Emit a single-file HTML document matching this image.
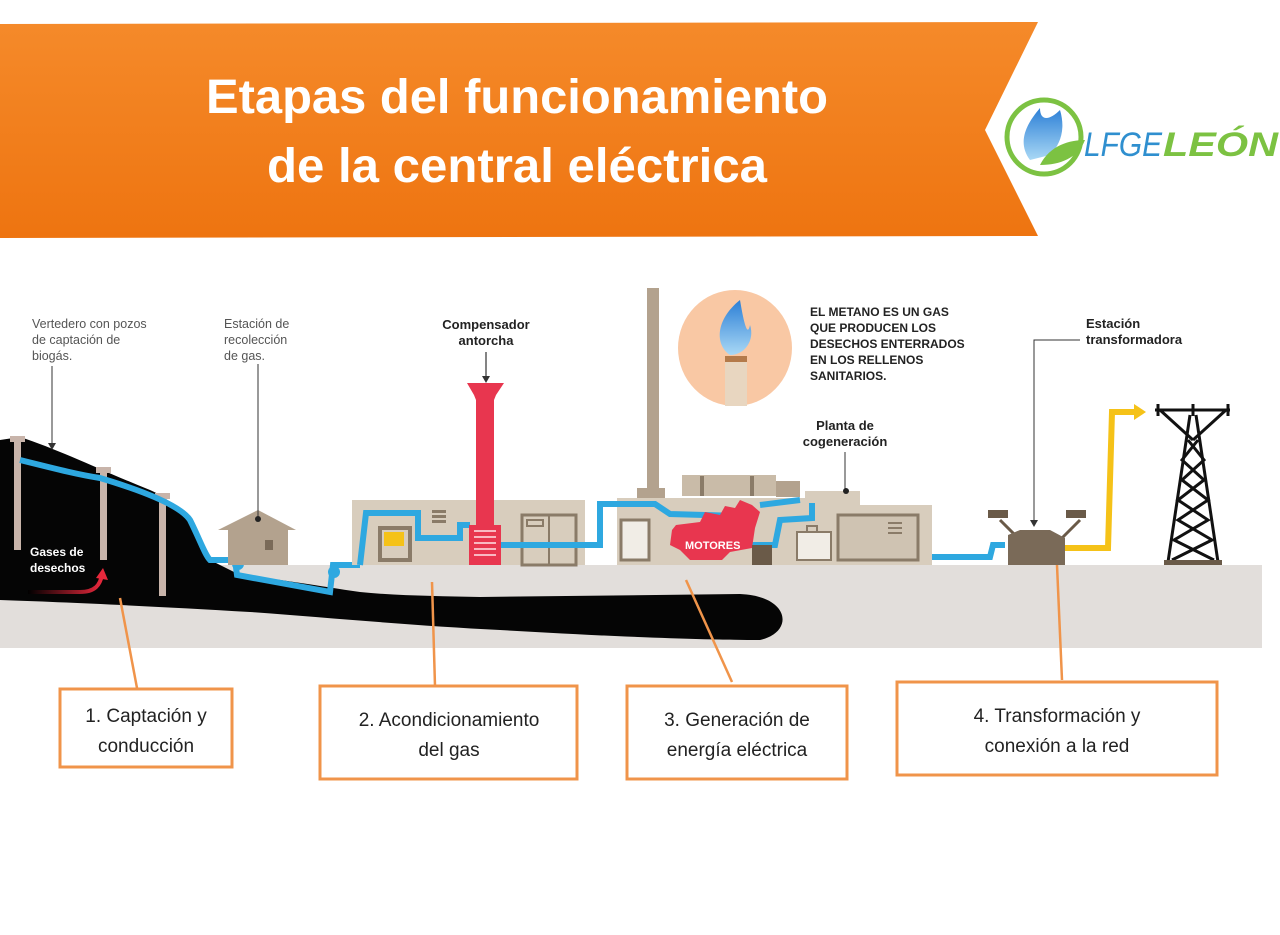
<!DOCTYPE html>
<html><head><meta charset="utf-8"><style>
html,body{margin:0;padding:0;background:#fff;width:1280px;height:935px;overflow:hidden}
svg{display:block}
</style></head><body>
<svg width="1280" height="935" viewBox="0 0 1280 935" xmlns="http://www.w3.org/2000/svg" font-family="Liberation Sans, sans-serif">
<defs>
<linearGradient id="ban" x1="0" y1="0" x2="0" y2="1"><stop offset="0" stop-color="#f58a2a"/><stop offset="1" stop-color="#ee7410"/></linearGradient>
<linearGradient id="flm" x1="0" y1="0" x2="0" y2="1"><stop offset="0" stop-color="#2c7fd6"/><stop offset="1" stop-color="#a9d8f5"/></linearGradient>
<linearGradient id="gas" x1="0" y1="0" x2="1" y2="0"><stop offset="0" stop-color="#000"/><stop offset="1" stop-color="#e8283c"/></linearGradient>
</defs>
<polygon points="0,24 1038,22 985,130 1038,236 0,238" fill="url(#ban)"/>
<text x="517" y="113" text-anchor="middle" font-size="48" font-weight="bold" fill="#fff" textLength="622" lengthAdjust="spacingAndGlyphs">Etapas del funcionamiento</text>
<text x="517" y="182" text-anchor="middle" font-size="48" font-weight="bold" fill="#fff" textLength="500" lengthAdjust="spacingAndGlyphs">de la central eléctrica</text>
<circle cx="1044" cy="137" r="37" fill="none" stroke="#7cc242" stroke-width="5"/>
<path d="M1030,160 C1015,140 1030,120 1040,108 C1040,122 1050,120 1060,110 C1066,130 1060,145 1050,155 Z" fill="url(#flm)"/>
<path d="M1040,165 C1050,145 1070,140 1085,140 C1078,158 1060,165 1040,165 Z" fill="#7cc242"/>
<text x="1084" y="156" font-size="34" font-style="italic" fill="#2f8fcf" textLength="78" lengthAdjust="spacingAndGlyphs">LFGE</text>
<text x="1163" y="156" font-size="34" font-style="italic" font-weight="bold" fill="#7cc242" textLength="115" lengthAdjust="spacingAndGlyphs">LEÓN</text>
<rect x="0" y="565" width="1262" height="83" fill="#e2dedb"/>
<path d="M0,440 L20,437 C60,450 100,470 150,490 C185,505 200,540 210,560 L240,575 C300,582 330,588 360,592 C400,596 440,596 480,597 L740,594 C790,596 795,632 760,640 C700,640 600,636 500,630 C420,626 330,618 250,612 C150,606 60,602 0,600 Z" fill="#050505"/>
<g fill="#c8b4aa">
<rect x="14" y="438" width="7" height="112"/><rect x="10" y="436" width="15" height="6"/>
<rect x="100" y="470" width="7" height="90"/><rect x="96" y="467" width="15" height="6"/>
<rect x="159" y="496" width="7" height="100"/><rect x="155" y="493" width="15" height="6"/>
</g>
<path d="M20,460 C60,470 80,475 100,478 C140,490 180,505 190,520 C200,540 205,555 210,560 L235,560 L237,575 L330,592 L333,565 L360,565 M930,557 L990,557 L993,545 L1005,545" fill="none" stroke="#2ea8e0" stroke-width="6"/>
<circle cx="238" cy="564" r="6" fill="#2ea8e0"/><circle cx="334" cy="572" r="6" fill="#2ea8e0"/>
<path d="M28,592 L80,592 C95,592 100,585 102,575" fill="none" stroke="url(#gas)" stroke-width="4"/>
<polygon points="96,578 103,568 108,580" fill="#e8283c"/>
<text x="30" y="556" font-size="12" font-weight="bold" fill="#fff">Gases de</text>
<text x="30" y="572" font-size="12" font-weight="bold" fill="#fff">desechos</text>
<polygon points="218,530 258,510 296,530" fill="#b3a28e"/>
<rect x="228" y="528" width="60" height="37" fill="#b3a28e"/>
<rect x="265" y="540" width="8" height="10" fill="#7a6a58"/>
<rect x="352" y="500" width="233" height="65" fill="#d8cdbd"/>
<path d="M360,565 L366,513 L418,513 L418,538 L460,538 L460,525 L470,525" fill="none" stroke="#2ea8e0" stroke-width="6"/>
<rect x="380" y="528" width="30" height="32" fill="none" stroke="#8a7b68" stroke-width="4"/>
<rect x="384" y="532" width="20" height="14" fill="#f5c218"/>
<rect x="432" y="510" width="14" height="3" fill="#8a7b68"/><rect x="432" y="515" width="14" height="3" fill="#8a7b68"/><rect x="432" y="520" width="14" height="3" fill="#8a7b68"/>
<rect x="522" y="515" width="54" height="50" fill="none" stroke="#8a7b68" stroke-width="3"/>
<line x1="549" y1="515" x2="549" y2="565" stroke="#8a7b68" stroke-width="2"/>
<rect x="527" y="520" width="16" height="6" fill="none" stroke="#8a7b68" stroke-width="2"/>
<path d="M470,545 L600,545 L600,504 L620,504" fill="none" stroke="#2ea8e0" stroke-width="6"/>
<polygon points="467,383 504,383 496,395 494,400 494,525 476,525 476,400 474,395" fill="#e8364f"/>
<rect x="469" y="525" width="32" height="40" fill="#e8364f"/>
<g fill="#f9b8c2"><rect x="474" y="530" width="22" height="2"/><rect x="474" y="536" width="22" height="2"/><rect x="474" y="542" width="22" height="2"/><rect x="474" y="548" width="22" height="2"/><rect x="474" y="554" width="22" height="2"/></g>
<text x="486" y="329" text-anchor="middle" font-size="13" font-weight="bold" fill="#222">Compensador</text>
<text x="486" y="345" text-anchor="middle" font-size="13" font-weight="bold" fill="#222">antorcha</text>
<line x1="486" y1="352" x2="486" y2="377" stroke="#333" stroke-width="1.2"/><polygon points="482,376 490,376 486,383" fill="#333"/>
<rect x="647" y="288" width="12" height="212" fill="#b3a28e"/>
<rect x="637" y="488" width="28" height="14" fill="#b3a28e"/>
<rect x="682" y="475" width="94" height="21" fill="#c9bba8"/>
<rect x="700" y="476" width="4" height="20" fill="#8a7b68"/><rect x="750" y="476" width="4" height="20" fill="#8a7b68"/>
<rect x="776" y="481" width="24" height="16" fill="#b3a28e"/>
<rect x="617" y="498" width="200" height="67" fill="#d8cdbd"/>
<rect x="805" y="491" width="55" height="15" fill="#d8cdbd"/>
<rect x="817" y="505" width="115" height="60" fill="#d8cdbd"/>
<rect x="621" y="520" width="28" height="40" fill="#f1ede6" stroke="#8a7b68" stroke-width="3"/>
<path d="M600,504 L655,504 L670,514 L740,516 M760,505 L800,500" fill="none" stroke="#2ea8e0" stroke-width="6"/>
<path d="M752,545 L775,545 L780,520 L812,518 L812,503" fill="none" stroke="#2ea8e0" stroke-width="6"/>
<polygon points="676,525 700,522 705,512 720,515 725,506 735,508 740,500 752,505 760,512 755,528 752,548 730,552 722,560 690,560 680,550 670,545 672,530" fill="#e8364f"/>
<text x="685" y="549" font-size="11" font-weight="bold" fill="#fff">MOTORES</text>
<rect x="752" y="545" width="20" height="20" fill="#6a5a48"/>
<rect x="797" y="532" width="34" height="28" fill="#f1ede6" stroke="#8a7b68" stroke-width="2"/>
<rect x="807" y="526" width="10" height="6" fill="none" stroke="#8a7b68" stroke-width="2"/>
<rect x="838" y="515" width="80" height="45" fill="#cfc3b2" stroke="#8a7b68" stroke-width="3"/>
<rect x="888" y="522" width="14" height="2" fill="#8a7b68"/><rect x="888" y="527" width="14" height="2" fill="#8a7b68"/><rect x="888" y="532" width="14" height="2" fill="#8a7b68"/>
<text x="845" y="430" text-anchor="middle" font-size="13" font-weight="bold" fill="#222">Planta de</text>
<text x="845" y="446" text-anchor="middle" font-size="13" font-weight="bold" fill="#222">cogeneración</text>
<line x1="845" y1="452" x2="845" y2="490" stroke="#333" stroke-width="1"/><circle cx="846" cy="491" r="3" fill="#222"/>
<ellipse cx="735" cy="348" rx="57" ry="58" fill="#f9c8a4"/>
<path d="M740,300 C715,320 715,345 730,355 C745,355 755,340 750,325 C748,335 745,330 740,300 Z" fill="url(#flm)"/>
<rect x="725" y="356" width="22" height="50" fill="#e8d6c0"/>
<rect x="725" y="356" width="22" height="6" fill="#b47a4a"/>
<g font-size="12" font-weight="bold" fill="#222">
<text x="810" y="316">EL METANO ES UN GAS</text>
<text x="810" y="332">QUE PRODUCEN LOS</text>
<text x="810" y="348">DESECHOS ENTERRADOS</text>
<text x="810" y="364">EN LOS RELLENOS</text>
<text x="810" y="380">SANITARIOS.</text>
</g>
<path d="M1000,520 L1020,540 M1080,520 L1060,540" stroke="#6a5a48" stroke-width="3"/>
<rect x="988" y="510" width="20" height="8" fill="#6a5a48"/><rect x="1066" y="510" width="20" height="8" fill="#6a5a48"/>
<polygon points="1008,535 1020,530 1050,530 1065,538 1065,565 1008,565" fill="#7a6a58"/>
<path d="M1065,548 L1108,548 L1112,412 L1138,412" fill="none" stroke="#f5c218" stroke-width="6"/>
<polygon points="1134,404 1146,412 1134,420" fill="#f5c218"/>
<text x="1086" y="328" font-size="13" font-weight="bold" fill="#222">Estación</text>
<text x="1086" y="344" font-size="13" font-weight="bold" fill="#222">transformadora</text>
<polyline points="1080,340 1034,340 1034,522" fill="none" stroke="#333" stroke-width="1"/>
<polygon points="1030,520 1038,520 1034,527" fill="#333"/>
<g stroke="#111" stroke-width="3" fill="none">
<line x1="1155" y1="410" x2="1230" y2="410"/>
<line x1="1158" y1="404" x2="1158" y2="416"/><line x1="1193" y1="404" x2="1193" y2="416"/><line x1="1228" y1="404" x2="1228" y2="416"/>
<line x1="1160" y1="410" x2="1193" y2="440"/><line x1="1226" y1="410" x2="1193" y2="440"/>
<line x1="1190" y1="415" x2="1168" y2="562"/><line x1="1196" y1="415" x2="1218" y2="562"/>
<path d="M1188,440 L1204,460 L1182,480 L1208,500 L1178,520 L1212,540 L1172,560 M1198,440 L1182,460 L1204,480 L1178,500 L1208,520 L1174,540 L1214,560"/>
</g>
<rect x="1164" y="560" width="58" height="5" fill="#6a5a48"/>
<g font-size="12.5" fill="#555">
<text x="32" y="328">Vertedero con pozos</text>
<text x="32" y="344">de captación de</text>
<text x="32" y="360">biogás.</text>
<text x="224" y="328">Estación de</text>
<text x="224" y="344">recolección</text>
<text x="224" y="360">de gas.</text>
</g>
<line x1="52" y1="366" x2="52" y2="444" stroke="#333" stroke-width="1"/><polygon points="48,443 56,443 52,450" fill="#333"/>
<line x1="258" y1="364" x2="258" y2="518" stroke="#333" stroke-width="1"/><circle cx="258" cy="519" r="3" fill="#222"/>
<g stroke="#f0944a" stroke-width="2.5">
<line x1="120" y1="598" x2="137" y2="688"/>
<line x1="432" y1="582" x2="435" y2="686"/>
<line x1="686" y1="580" x2="732" y2="682"/>
<line x1="1057" y1="565" x2="1062" y2="680"/>
</g>
<g fill="#fff" stroke="#f0944a" stroke-width="3">
<rect x="60" y="689" width="172" height="78"/>
<rect x="320" y="686" width="257" height="93"/>
<rect x="627" y="686" width="220" height="93"/>
<rect x="897" y="682" width="320" height="93"/>
</g>
<g font-size="19" fill="#222" text-anchor="middle">
<text x="146" y="722">1. Captación y</text>
<text x="146" y="752">conducción</text>
<text x="449" y="726">2. Acondicionamiento</text>
<text x="449" y="756">del gas</text>
<text x="737" y="726">3. Generación de</text>
<text x="737" y="756">energía eléctrica</text>
<text x="1057" y="722">4. Transformación y</text>
<text x="1057" y="752">conexión a la red</text>
</g>
</svg>
</body></html>
